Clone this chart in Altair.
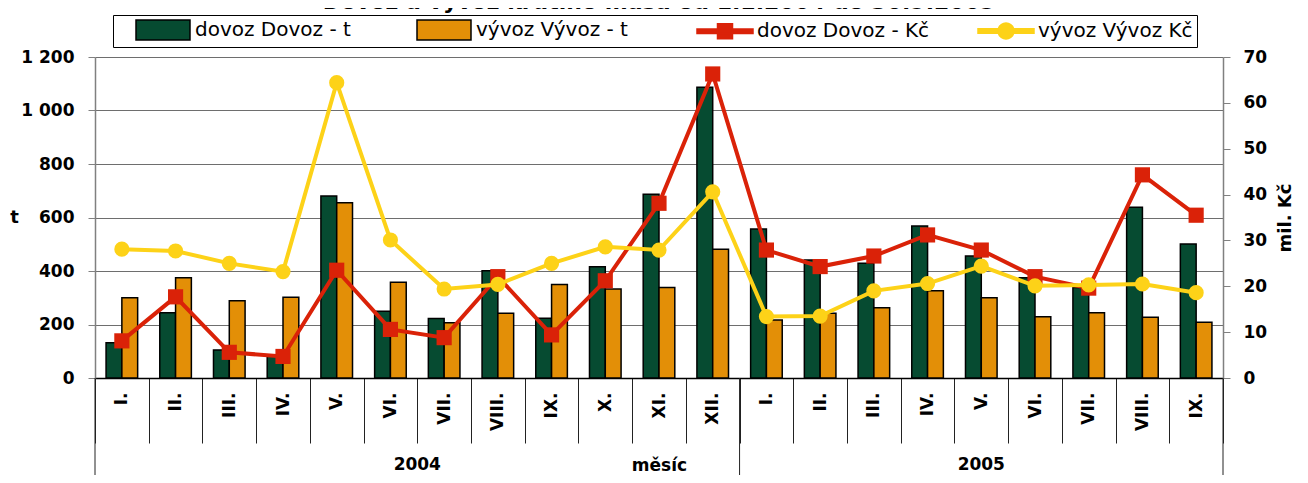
import math
import altair as alt
import pandas as pd

# ---------------- data ----------------
months = ["I.", "II.", "III.", "IV.", "V.", "VI.", "VII.", "VIII.", "IX.", "X.", "XI.", "XII.",
          "I.", "II.", "III.", "IV.", "V.", "VI.", "VII.", "VIII.", "IX."]
years = ["2004"] * 12 + ["2005"] * 9
dovoz_t = [132, 244, 105, 86, 680, 250, 222, 401, 223, 416, 687, 1087,
           557, 441, 429, 568, 456, 375, 338, 638, 501]
vyvoz_t = [300, 375, 289, 302, 655, 358, 207, 242, 350, 333, 338, 481,
           217, 242, 263, 326, 300, 229, 244, 227, 208]
dovoz_kc = [8.1, 17.7, 5.6, 4.7, 23.5, 10.6, 8.8, 22.1, 9.4, 21.2, 38.1, 66.3,
            27.9, 24.3, 26.6, 31.2, 27.9, 22.1, 19.6, 44.3, 35.5]
vyvoz_kc = [28.1, 27.7, 25.0, 23.2, 64.4, 30.1, 19.4, 20.4, 25.0, 28.6, 27.9, 40.6,
            13.4, 13.5, 19.0, 20.6, 24.4, 20.1, 20.3, 20.5, 18.6]
series_names = ["dovoz Dovoz - t", "vývoz Vývoz - t", "dovoz Dovoz - Kč", "vývoz Vývoz Kč"]
year_labels = ["2004", "2005"]
y_ticks_t = [0, 200, 400, 600, 800, 1000, 1200]
y_ticks_kc = [0, 10, 20, 30, 40, 50, 60, 70]

keys = [f"{y}|{m}" for y, m in zip(years, months)]
n = len(keys)

bar_df = pd.DataFrame({"key": keys * 2,
                       "series": [series_names[0]] * n + [series_names[1]] * n,
                       "value": dovoz_t + vyvoz_t})
line_df = pd.DataFrame({"key": keys * 2,
                        "series": [series_names[2]] * n + [series_names[3]] * n,
                        "value": dovoz_kc + vyvoz_kc})
year_start_df = pd.DataFrame({"key": [keys[0], keys[12]]})
year_end_df = pd.DataFrame({"key": [keys[-1]]})
year2004_df = pd.DataFrame({"key": [keys[6]], "label": [year_labels[0]]})
year2005_df = pd.DataFrame({"key": [keys[16]], "label": [year_labels[1]]})

# ---------------- style ----------------
GREEN = "#064B31"
ORANGE = "#E38F07"
RED = "#DA2208"
YELLOW = "#FDD218"
FONT = "DejaVu Sans"
W, H = 1128, 321

# legend symbol shapes (unit path, scaled by Vega)
P_RECT = "M-2.7,-1H2.7V1H-2.7Z"
P_BAR = "M-2.8,-0.22H2.8V0.22H-2.8Z"
P_SQ = P_BAR + "M-0.75,-0.75H0.75V0.75H-0.75Z"
_circ = [(0.8 * math.cos(2 * math.pi * i / 20), 0.8 * math.sin(2 * math.pi * i / 20))
         for i in range(20)]
P_CIRC = P_BAR + "M" + "L".join(f"{a:.3f},{b:.3f}" for a, b in _circ) + "Z"

fill_scale = alt.Scale(domain=series_names, range=[GREEN, ORANGE, RED, YELLOW])
stroke_scale = alt.Scale(domain=series_names, range=["#000000", "#000000", RED, YELLOW])
shape_scale = alt.Scale(domain=series_names, range=[P_RECT, P_RECT, P_SQ, P_CIRC])
no_title_legend = alt.Legend(title=None)

x_axis = alt.Axis(
    labelExpr="split(datum.value, '|')[1]", labelAngle=270, labelFontSize=17,
    labelFontWeight="bold", labelColor="#000", labelFont=FONT, labelPadding=-51,
    tickBand="extent", tickSize=65, tickColor="#222", tickWidth=1,
    domainColor="#000", domainWidth=1.5,
    title="měsíc", titleFont=FONT, titleFontSize=17, titleFontWeight="bold",
    titleColor="#000", titleY=87, titleBaseline="middle",
)
x_enc = alt.X("key:N", sort=keys, scale=alt.Scale(paddingInner=0, paddingOuter=0), axis=x_axis)
x_plain = lambda bp: alt.X("key:N", sort=keys, bandPosition=bp)

bars = alt.Chart(bar_df).mark_bar(strokeWidth=1.5).encode(
    x=x_enc,
    xOffset=alt.XOffset("series:N", sort=series_names[:2],
                        scale=alt.Scale(paddingOuter=0.7, paddingInner=0)),
    y=alt.Y("value:Q", scale=alt.Scale(domain=[0, 1200]),
            axis=alt.Axis(values=y_ticks_t,
                          labelExpr="replace(format(datum.value, ','), ',', ' ')",
                          grid=True, gridColor="#6e6e6e", gridWidth=1,
                          domainColor="#808080", domainWidth=1.5,
                          tickColor="#808080", tickSize=7, labelPadding=14,
                          labelFontSize=17, labelFontWeight="bold", labelFont=FONT,
                          labelColor="#000",
                          title="t", titleAngle=0, titleX=-81, titleY=H / 2,
                          titleAlign="center", titleBaseline="middle",
                          titleFont=FONT, titleFontSize=18, titleFontWeight="bold",
                          titleColor="#000")),
    fill=alt.Fill("series:N", scale=fill_scale, legend=no_title_legend),
    stroke=alt.Stroke("series:N", scale=stroke_scale, legend=no_title_legend),
)

y_kc = alt.Y("value:Q", scale=alt.Scale(domain=[0, 70]),
             axis=alt.Axis(orient="right", values=y_ticks_kc, grid=False,
                           domainColor="#808080", domainWidth=1.5,
                           tickColor="#808080", tickSize=7, labelPadding=13,
                           labelFontSize=17, labelFontWeight="bold", labelFont=FONT,
                           labelColor="#000",
                           title="mil. Kč", titleAngle=270, titleX=62, titleY=H / 2,
                           titleAlign="center", titleBaseline="middle",
                           titleFont=FONT, titleFontSize=18, titleFontWeight="bold",
                           titleColor="#000"))

def kc_line(name):
    return alt.Chart(line_df).transform_filter(alt.datum.series == name).mark_line(
        strokeWidth=4).encode(
        x=x_enc, y=y_kc,
        stroke=alt.Stroke("series:N", scale=stroke_scale, legend=no_title_legend))

def kc_points(name, shape):
    return alt.Chart(line_df).transform_filter(alt.datum.series == name).mark_point(
        shape=shape, size=230, filled=True, opacity=1, strokeWidth=0).encode(
        x=x_enc, y=y_kc,
        fill=alt.Fill("series:N", scale=fill_scale, legend=no_title_legend))

legend_layer = alt.Chart(line_df).mark_point(opacity=0).encode(
    x=x_enc, y=y_kc,
    shape=alt.Shape("series:N", scale=shape_scale, legend=no_title_legend))

kc = alt.layer(kc_line(series_names[2]), kc_points(series_names[2], "square"),
               kc_line(series_names[3]), kc_points(series_names[3], "circle"),
               legend_layer)

rule_start = alt.Chart(year_start_df).mark_rule(color="#222", strokeWidth=1).encode(
    x=x_plain(0), y=alt.value(H), y2=alt.value(H + 100))
rule_end = alt.Chart(year_end_df).mark_rule(color="#222", strokeWidth=1).encode(
    x=x_plain(1), y=alt.value(H), y2=alt.value(H + 100))
txt_kw = dict(font=FONT, fontSize=17, fontWeight="bold", color="#000",
              align="center", baseline="middle")
t2004 = alt.Chart(year2004_df).mark_text(**txt_kw).encode(
    x=x_plain(0), y=alt.value(H + 87), text="label:N")
t2005 = alt.Chart(year2005_df).mark_text(**txt_kw).encode(
    x=x_plain(0.5), y=alt.value(H + 87), text="label:N")

chart = alt.layer(bars, kc, rule_start, rule_end, t2004, t2005).resolve_scale(
    y="independent"
).properties(
    width=W, height=H,
    title=alt.Title("Dovoz a vývoz krůtího masa od 1.1.2004 do 30.9.2005",
                    font=FONT, fontSize=22, fontWeight="bold", color="#000",
                    anchor="middle", frame="group", dy=3),
    autosize=alt.AutoSizeParams(type="none"),
    padding={"left": 87, "top": 49, "right": 77, "bottom": 97},
).configure_view(stroke=None).configure_legend(
    orient="none", legendX=18, legendY=-42, direction="horizontal", columns=4,
    gridAlign="all", columnPadding=30, strokeColor="#000", fillColor="#fff",
    padding=4, labelFontSize=20, labelFont=FONT, labelColor="#000", labelLimit=400,
    symbolSize=400, symbolOffset=35, symbolStrokeWidth=1.5, symbolOpacity=1,
    labelOffset=21,
)

chart.save("out.html", embed_options={"renderer": "svg", "actions": False})
